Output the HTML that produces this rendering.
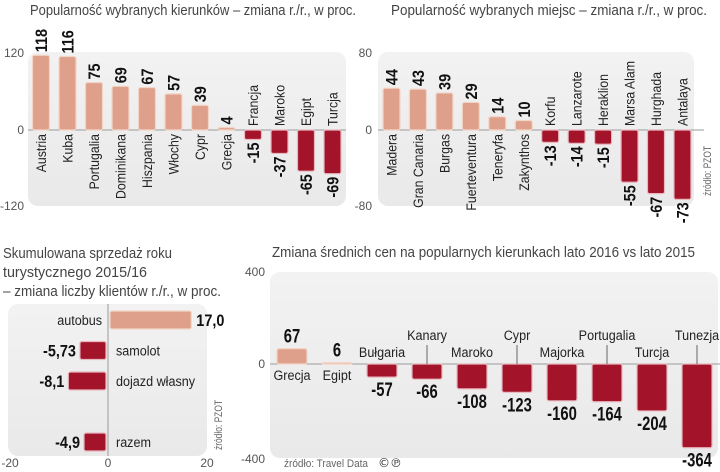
<!DOCTYPE html>
<html><head><meta charset="utf-8">
<style>
html,body{margin:0;padding:0;background:#fff;}
svg{display:block;font-family:"Liberation Sans",sans-serif;}
.t{font-size:15px;fill:#444;}
.ax{font-size:12px;fill:#555;}
.nm{font-size:14px;fill:#222;}
.val{font-size:17px;font-weight:bold;fill:#111;}
.src{font-size:11px;fill:#666;}
</style></head>
<body>
<svg id="svg" width="720" height="472" viewBox="0 0 720 472">
<defs>
<linearGradient id="pg" x1="0" y1="0" x2="0" y2="1"><stop offset="0" stop-color="#f2f2f2"/><stop offset="1" stop-color="#e9e9e9"/></linearGradient>
</defs>
<g id="c1">
<text class="t" x="30" y="15" textLength="326" lengthAdjust="spacingAndGlyphs">Popularność wybranych kierunków – zmiana r./r., w proc.</text>
<rect x="28" y="52" width="318" height="154" rx="10" fill="url(#pg)"/>
<text class="ax" x="24" y="57" text-anchor="end">120</text>
<text class="ax" x="24" y="134" text-anchor="end">0</text>
<text class="ax" x="24" y="210" text-anchor="end">-120</text>
</g>
<g id="c2">
<text class="t" x="391" y="15" textLength="316" lengthAdjust="spacingAndGlyphs">Popularność wybranych miejsc  – zmiana r./r., w proc.</text>
<rect x="378" y="52" width="316" height="154" rx="10" fill="url(#pg)"/>
<text class="ax" x="372" y="57" text-anchor="end">80</text>
<text class="ax" x="372" y="134" text-anchor="end">0</text>
<text class="ax" x="372" y="210" text-anchor="end">-80</text>
<text class="src" transform="translate(711,196) rotate(-90)" textLength="50" lengthAdjust="spacingAndGlyphs">źródło: PZOT</text>
</g>
<g id="c3">
<text class="t" x="3" y="258" textLength="169" lengthAdjust="spacingAndGlyphs">Skumulowana sprzedaż roku</text>
<text class="t" x="3" y="277" textLength="144" lengthAdjust="spacingAndGlyphs">turystycznego 2015/16</text>
<text class="t" x="3" y="296" textLength="218" lengthAdjust="spacingAndGlyphs">– zmiana  liczby klientów r./r., w proc.</text>
<rect x="8" y="304" width="199" height="152" rx="10" fill="url(#pg)"/>
<text class="ax" x="10" y="467" text-anchor="middle">-20</text>
<text class="ax" x="108" y="467" text-anchor="middle">0</text>
<text class="ax" x="207" y="467" text-anchor="middle">20</text>
<text class="src" transform="translate(222,450) rotate(-90)" textLength="50" lengthAdjust="spacingAndGlyphs">źródło: PZOT</text>
</g>
<g id="c4">
<text class="t" x="272" y="257" textLength="423" lengthAdjust="spacingAndGlyphs">Zmiana średnich cen na popularnych kierunkach lato 2016 vs lato 2015</text>
<rect x="270" y="272" width="448" height="186" rx="10" fill="url(#pg)"/>
<text class="ax" x="265" y="276" text-anchor="end">400</text>
<text class="ax" x="265" y="368" text-anchor="end">0</text>
<text class="ax" x="265" y="463" text-anchor="end">-400</text>
<text class="src" x="284" y="467" textLength="84" lengthAdjust="spacingAndGlyphs">źródło: Travel Data</text>
<text x="378" y="467" style="font-size:12px;fill:#333;font-family:'DejaVu Sans',sans-serif">©℗</text>
</g>
</svg>
<script>
const c1Names=["Austria","Kuba","Portugalia","Dominikana","Hiszpania","Włochy","Cypr","Grecja","Francja","Maroko","Egipt","Turcja"];
const c1Values=[118,116,75,69,67,57,39,4,-15,-37,-65,-69];
const c2Names=["Madera","Gran Canaria","Burgas","Fuerteventura","Teneryfa","Zakynthos","Korfu","Lanzarote","Heraklion","Marsa Alam","Hurghada","Antalaya"];
const c2Values=[44,43,39,29,14,10,-13,-14,-15,-55,-67,-73];
const c3Names=["autobus","samolot","dojazd własny","razem"];
const c3Values=[17.0,-5.73,-8.1,-4.9];
const c3Labels=["17,0","-5,73","-8,1","-4,9"];
const c3Rows=[0,1,2,4];
const c4Names=["Grecja","Egipt","Bułgaria","Kanary","Maroko","Cypr","Majorka","Portugalia","Turcja","Tunezja"];
const c4Values=[67,6,-57,-66,-108,-123,-160,-164,-204,-364];

const NS="http://www.w3.org/2000/svg";
const POS="#dea08a",NEG="#a3142b";
function mk(parent,tag,attrs,txt){const e=document.createElementNS(NS,tag);for(const k in attrs)e.setAttribute(k,attrs[k]);if(txt!==undefined)e.textContent=txt;parent.appendChild(e);return e;}

function vertChart(gid,names,vals,x0,step,y0,pxPer,lineX1,lineX2,prefix){
  const g=document.getElementById(gid);
  const y=v=>y0-v*pxPer;
  const x=i=>x0+i*step;
  const zl=mk(g,"line",{x1:lineX1,x2:lineX2,y1:y0,y2:y0,stroke:"#9a9a9a","stroke-width":1});
  
  
  vals.forEach((v,i)=>{
    const cx=x(i),w=17;
    const top=Math.min(y(v),y0),h=Math.max(Math.abs(y(v)-y0),1.5);
    const r=mk(g,"rect",{x:cx-w/2,y:top,width:w,height:h,rx:2,fill:v>=0?POS:NEG,stroke:v>=0?"#f3d5c8":"#e8b8bf","stroke-width":1.2});
    
    
    let vt,nt;
    if(v>=0){
      vt=mk(g,"text",{class:"val",transform:`translate(${cx+6},${y(v)-3}) rotate(-90) scale(0.85,1)`,"text-anchor":"start"},String(v));
      nt=mk(g,"text",{class:"nm",transform:`translate(${cx+5},${y0+4}) rotate(-90) scale(0.88,1)`,"text-anchor":"end"},names[i]);
    }else{
      vt=mk(g,"text",{class:"val",transform:`translate(${cx+6},${y(v)+3}) rotate(-90) scale(0.85,1)`,"text-anchor":"end"},String(v));
      nt=mk(g,"text",{class:"nm",transform:`translate(${cx+5},${y0-4}) rotate(-90) scale(0.88,1)`,"text-anchor":"start"},names[i]);
    }
    
    
    
    
  });
}
vertChart("c1",c1Names,c1Values,41,26.5,130,76/120,28,346,"directions");
vertChart("c2",c2Names,c2Values,391.5,26.45,130,76/80,378,704,"places");

// chart 3 horizontal
(function(){
  const g=document.getElementById("c3");
  const x0=108,px=98/20;
  const rowY=r=>320+r*30.5;
  const ax=mk(g,"line",{x1:x0,x2:x0,y1:304,y2:456,stroke:"#9a9a9a","stroke-width":1});
  
  
  c3Values.forEach((v,i)=>{
    const cy=rowY(c3Rows[i]);
    const xe=x0+v*px;
    const r=mk(g,"rect",{x:Math.min(x0,xe)+(v>=0?2:0),y:cy-9,width:Math.abs(xe-x0)-2,height:18,rx:2,fill:v>=0?POS:NEG,stroke:v>=0?"#f3d5c8":"#e8b8bf","stroke-width":1.2});
    
    
    let vt,nt;
    if(v>=0){
      vt=mk(g,"text",{class:"val",transform:`translate(${xe+5},${cy+6}) scale(0.85,1)`},c3Labels[i]);
      nt=mk(g,"text",{class:"nm",transform:`translate(${x0-6},${cy+5}) scale(0.9,1)`,"text-anchor":"end"},c3Names[i]);
    }else{
      vt=mk(g,"text",{class:"val",transform:`translate(${xe-4},${cy+6}) scale(0.85,1)`,"text-anchor":"end"},c3Labels[i]);
      nt=mk(g,"text",{class:"nm",transform:`translate(${x0+8},${cy+5}) scale(0.9,1)`},c3Names[i]);
    }
    
    
    
    
  });
})();

// chart 4
(function(){
  const g=document.getElementById("c4");
  const y0=364,px=92/400;
  const y=v=>y0-v*px;
  const x=i=>292+i*45;
  const zl=mk(g,"line",{x1:270,x2:720,y1:y0,y2:y0,stroke:"#9a9a9a","stroke-width":1});
  
  
  c4Values.forEach((v,i)=>{
    const cx=x(i),w=30;
    const top=Math.min(y(v),y0),h=Math.max(Math.abs(y(v)-y0),1.5);
    const r=mk(g,"rect",{x:cx-w/2,y:top,width:w,height:h,rx:2,fill:v>=0?POS:NEG,stroke:v>=0?"#f3d5c8":"#e8b8bf","stroke-width":1.2});
    
    
    let vt,nt;
    if(v>=0){
      vt=mk(g,"text",{class:"val",transform:`translate(${cx},${y(v)-6}) scale(0.78,1)`,"text-anchor":"middle",style:"font-size:19px"},String(v));
      nt=mk(g,"text",{class:"nm",transform:`translate(${cx},${y0+16}) scale(0.9,1)`,"text-anchor":"middle"},c4Names[i]);
    }else{
      vt=mk(g,"text",{class:"val",transform:`translate(${cx},${y(v)+19}) scale(0.78,1)`,"text-anchor":"middle",style:"font-size:19px"},String(v));
      const high=(i%2===1);
      const ny=high?340:357;
      nt=mk(g,"text",{class:"nm",transform:`translate(${cx},${ny}) scale(0.9,1)`,"text-anchor":"middle"},c4Names[i]);
      if(high){
        const ln=mk(g,"line",{x1:cx,x2:cx,y1:ny+5,y2:y0,stroke:"#666","stroke-width":1});
        
        
      }
    }
    
    
    
    
  });
})();
</script>
</body></html>
